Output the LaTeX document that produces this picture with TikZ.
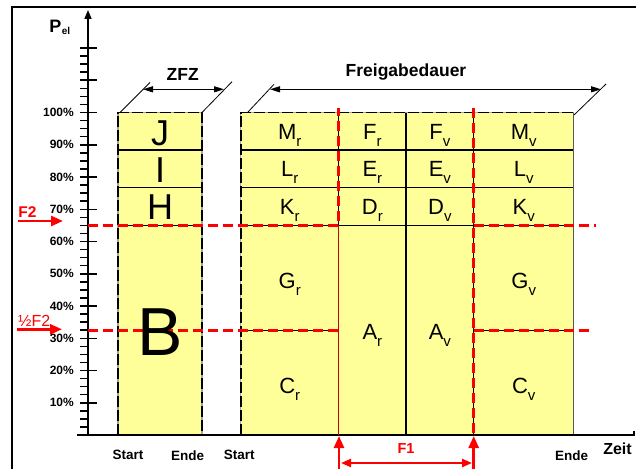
\documentclass[tikz,border=0pt]{standalone}
\usepackage{fontspec}
\setmainfont{Liberation Sans}
\usetikzlibrary{arrows.meta}
\definecolor{cellyellow}{RGB}{255,255,153}
\definecolor{markred}{RGB}{255,0,0}
\newcommand\fsz[1]{\fontsize{#1}{#1}\selectfont}
% cell label with lowered index letter
\newcommand\cellsub[2]{\fsz{22}#1\raisebox{-7pt}{\fsz{15}#2}}
\tikzset{
  cellline/.style={line width=1.3pt, black},
  basegray/.style={line width=1.3pt, black!35},
  borderdash/.style={line width=1.6pt, black, dash pattern=on 11pt off 3pt},
  reddash/.style={line width=2.6pt, markred, dash pattern=on 10pt off 5pt},
  pct/.style={font=\fsz{12}\bfseries, anchor=east, inner sep=0pt},
  axlbl/.style={font=\fsz{13.5}\bfseries, inner sep=0pt},
  dimlbl/.style={font=\fsz{17.5}\bfseries, inner sep=0pt},
  biglbl/.style={font=\fsz{36}, anchor=base, inner sep=0pt},
  sublbl/.style={anchor=base, inner sep=0pt},
  tickmark/.style={line width=1.5pt},
  dimarrow/.style={line width=1.2pt, {Triangle[length=10pt,width=6pt]}-{Triangle[length=10pt,width=6pt]}},
  slant/.style={line width=0.8pt},
  redarrow/.style={line width=2.6pt, markred, -{Triangle[length=12pt,width=10pt]}},
}
\begin{document}
\begin{tikzpicture}[x=1pt,y=-1pt]
\clip (0,0) rectangle (636,468);
\fill[white] (0,0) rectangle (636,468);

% outer frame
\draw[line width=1.6pt] (12,472) -- (12,7) -- (640,7);

% yellow blocks
\fill[cellyellow] (118,112.5) rectangle (202,435);
\fill[cellyellow] (240.7,112.5) rectangle (573.7,435);

% row and column lines
\draw[cellline] (118,150.1) -- (202,150.1);
\draw[cellline] (118,187.7) -- (202,187.7);
\draw[cellline] (118,225.4) -- (202,225.4);
\draw[cellline] (240.7,150.1) -- (573.7,150.1);
\draw[cellline] (240.7,187.7) -- (573.7,187.7);
\draw[cellline] (240.7,225.4) -- (573.7,225.4);
\draw[cellline] (240.7,330.2) -- (338.7,330.2);
\draw[cellline] (473.7,330.2) -- (573.7,330.2);
\draw[cellline] (338.7,112.5) -- (338.7,435);
\draw[cellline] (406,112.5) -- (406,435);
\draw[cellline] (473.7,112.5) -- (473.7,435);

% block borders
\draw[basegray] (118,435) -- (118,112.5) -- (202,112.5) -- (202,435);
\draw[borderdash] (118,435) -- (118,112.5) -- (202,112.5) -- (202,435);
\draw[basegray] (240.7,435) -- (240.7,112.5) -- (573.7,112.5);
\draw[borderdash] (240.7,435) -- (240.7,112.5) -- (573.7,112.5);
\draw[line width=1.3pt, black!65] (573.7,112.5) -- (573.7,435);

% axes
\coordinate (xs) at (77,435);
\coordinate (xe) at (634,435);
\coordinate (xt) at (634,431);
\coordinate (ys) at (88,435);
\coordinate (ye) at (88,10);
\draw[line width=2pt] (xs) -- (xe) -- (xt);
\draw[line width=1.6pt, -{Triangle[length=9pt,width=7pt]}] (ys) -- (ye);
\foreach \k in {1,...,48}{
  \pgfmathsetmacro\yy{435-\k*2.5*3.225}
  \pgfmathtruncatemacro\m{mod(\k,4)}
  \ifnum\m=0
    \draw[tickmark] (80,\yy) -- (97,\yy);
  \else
    \draw[tickmark] (80,\yy) -- (88,\yy);
  \fi
}
\foreach \p in {10,20,...,100}{
  \node[pct] (pct\p) at (74,{435-\p*3.225}) {\p\%};
}
\node[font=\fsz{18}\bfseries, anchor=base, inner sep=0pt] (pP) at (55.5,32.5) {P};
\node[font=\fsz{10}\bfseries, anchor=base, inner sep=0pt] (pel) at (66,35) {el};

% dimension marks above the blocks
\coordinate (z1) at (120,112.5);
\coordinate (z2) at (150,82.5);
\coordinate (z3) at (202,112.5);
\coordinate (z4) at (232,81.7);
\draw[slant] (z1) -- (z2);
\draw[slant] (z3) -- (z4);
\coordinate (za) at (143,89.3);
\coordinate (zb) at (224,89.3);
\draw[dimarrow] (za) -- (zb);
\node[dimlbl] (zfz) at (182.7,74) {ZFZ};

\coordinate (f1) at (248,112);
\coordinate (f2) at (274,84.3);
\coordinate (f3) at (574,115);
\coordinate (f4) at (606,84);
\draw[slant] (f1) -- (f2);
\draw[slant] (f3) -- (f4);
\coordinate (fa) at (270,89.3);
\coordinate (fb) at (601,89.3);
\draw[dimarrow] (fa) -- (fb);
\node[dimlbl] (freig) at (406,72.5) {Freigabedauer};

% red limit lines
\draw[reddash] (88,225.4) -- (338.7,225.4) -- (338.7,108);
\draw[line width=0.7pt, markred!80!black] (338.7,225.4) -- (338.7,435);
\draw[reddash] (473.7,108) -- (473.7,435);
\draw[reddash] (473.7,225.4) -- (596,225.4);
\draw[reddash] (88,330.2) -- (338.7,330.2);
\draw[reddash] (473.7,330.2) -- (593,330.2);

% red markers
\coordinate (a1s) at (18,221);
\coordinate (a1e) at (63,221);
\draw[redarrow] (a1s) -- (a1e);
\node[font=\fsz{15.5}\bfseries, text=markred, inner sep=0pt] (lF2) at (27.5,212.2) {F2};
\coordinate (a2s) at (17,329.3);
\coordinate (a2e) at (62,329.3);
\draw[redarrow] (a2s) -- (a2e);
\node[font=\fsz{16}, text=markred, inner sep=0pt] (lhF2) at (34.2,321.3) {½F2};

\coordinate (b1s) at (339,472);
\coordinate (b1e) at (339,436);
\coordinate (b2s) at (473.7,472);
\coordinate (b2e) at (473.7,436);
\draw[redarrow] (b1s) -- (b1e);
\draw[redarrow] (b2s) -- (b2e);
\coordinate (c1) at (341,463);
\coordinate (c2) at (472,463);
\draw[line width=2.2pt, markred, {Triangle[length=10pt,width=8pt]}-{Triangle[length=10pt,width=8pt]}] (c1) -- (c2);
\node[font=\fsz{14.5}\bfseries, text=markred, inner sep=0pt] (lF1) at (406,449) {F1};

% time axis labels
\node[axlbl] (st1) at (128,455.3) {Start};
\node[axlbl] (en1) at (187.7,455.3) {Ende};
\node[axlbl] (st2) at (239.3,455.3) {Start};
\node[axlbl] (en2) at (571.7,455.5) {Ende};
\node[font=\fsz{16}\bfseries, inner sep=0pt] (zeit) at (617.5,448.3) {Zeit};

% cell letters
\node[biglbl] (cJ) at (160,145) {J};
\node[biglbl] (cI) at (160,182) {I};
\node[biglbl] (cH) at (160,219.5) {H};
\node[font=\fsz{68}, anchor=base, inner sep=0pt] (cB) at (160,355.6) {B};

\node[sublbl] (cMr) at (289.7,139.2) {\cellsub{M}{r}};
\node[sublbl] (cLr) at (289.7,176.8) {\cellsub{L}{r}};
\node[sublbl] (cKr) at (289.7,214.5) {\cellsub{K}{r}};
\node[sublbl] (cGr) at (289.7,288) {\cellsub{G}{r}};
\node[sublbl] (cCr) at (289.7,393) {\cellsub{C}{r}};

\node[sublbl] (cFr) at (372.4,139.2) {\cellsub{F}{r}};
\node[sublbl] (cEr) at (372.4,176.8) {\cellsub{E}{r}};
\node[sublbl] (cDr) at (372.4,214.5) {\cellsub{D}{r}};
\node[sublbl] (cAr) at (372.4,339.6) {\cellsub{A}{r}};

\node[sublbl] (cFv) at (439.9,139.2) {\cellsub{F}{v}};
\node[sublbl] (cEv) at (439.9,176.8) {\cellsub{E}{v}};
\node[sublbl] (cDv) at (439.9,214.5) {\cellsub{D}{v}};
\node[sublbl] (cAv) at (439.9,339.6) {\cellsub{A}{v}};

\node[sublbl] (cMv) at (523.7,139.2) {\cellsub{M}{v}};
\node[sublbl] (cLv) at (523.7,176.8) {\cellsub{L}{v}};
\node[sublbl] (cKv) at (523.7,214.5) {\cellsub{K}{v}};
\node[sublbl] (cGv) at (523.7,288) {\cellsub{G}{v}};
\node[sublbl] (cCv) at (523.7,393) {\cellsub{C}{v}};
\end{tikzpicture}
\end{document}
